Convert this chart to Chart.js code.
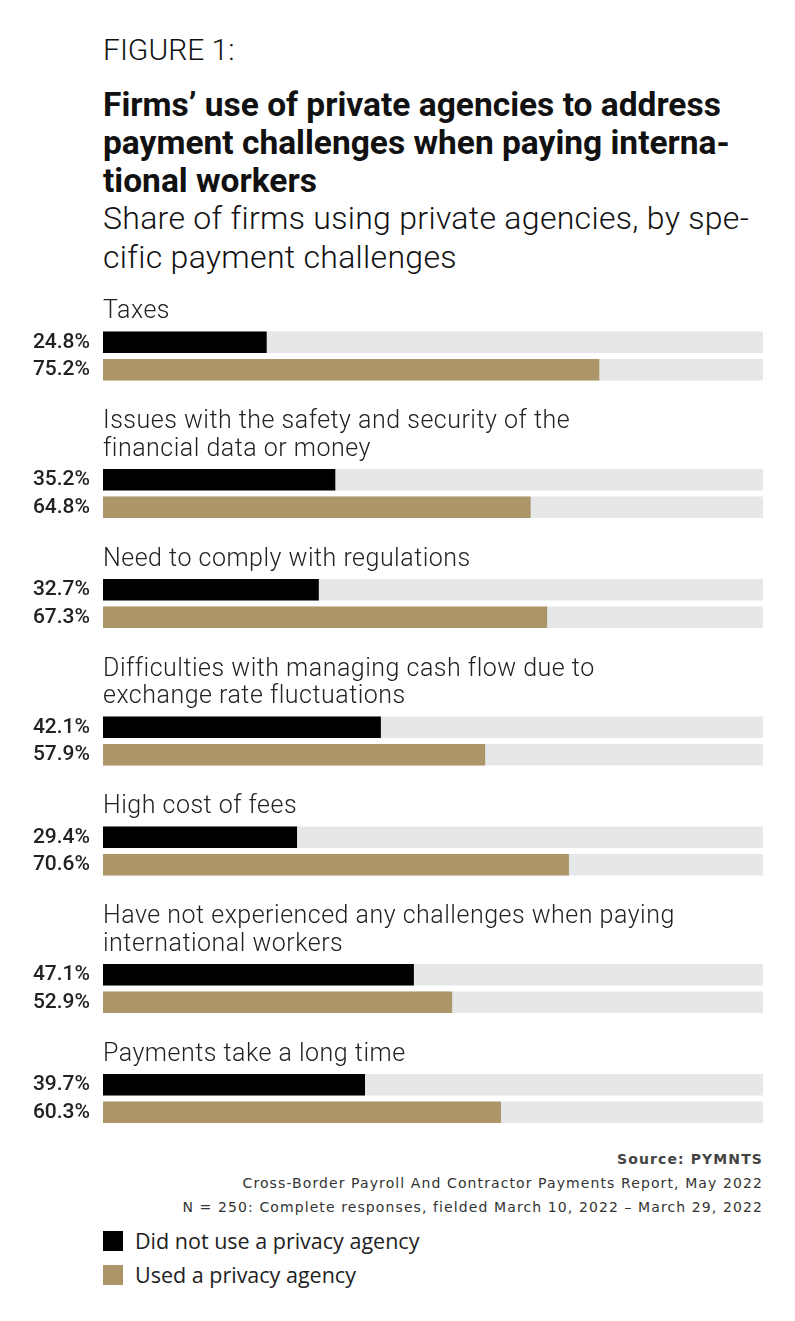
<!DOCTYPE html>
<html>
<head>
<meta charset="utf-8">
<script src="https://cdn.jsdelivr.net/npm/chart.js@4/dist/chart.umd.min.js"></script>
<style>
  body { margin: 0; background: #fff; width: 795px; height: 1321px; position: relative; font-family: Roboto, sans-serif; color: #111; }
  .abs { position: absolute; }
  #fig { left: 103px; top: 32px; font-size: 30px; font-weight: 300; line-height: 36px; }
  #title { left: 103px; top: 86px; font-size: 33.5px; font-weight: 700; line-height: 38px; white-space: nowrap; }
  #subtitle { left: 103px; top: 199px; font-size: 32px; font-weight: 300; line-height: 39px; letter-spacing: 0.3px; white-space: nowrap; }
  #chartBox { left: 0; top: 295px; width: 795px; height: 840px; }
  #source { right: 32px; top: 1147px; text-align: right; font-family: "DejaVu Sans", sans-serif; font-size: 14px; line-height: 24px; letter-spacing: 1.1px; color: #333; }
  #source b { color: #444; }
  .leg { left: 103px; font-family: "Open Sans", sans-serif; font-size: 21.5px; color: #222; display: flex; align-items: center; }
  .sw { width: 20px; height: 20px; margin-right: 12px; }
</style>
</head>
<body>
<div id="fig" class="abs">FIGURE 1:</div>
<div id="title" class="abs">Firms’ use of private agencies to address<br>payment challenges when paying interna-<br>tional workers</div>
<div id="subtitle" class="abs">Share of firms using private agencies, by spe-<br>cific payment challenges</div>
<div id="chartBox" class="abs"><canvas id="chart"></canvas></div>
<div id="source" class="abs"><b>Source: PYMNTS</b><br>Cross-Border Payroll And Contractor Payments Report, May 2022<br>N = 250: Complete responses, fielded March 10, 2022 – March 29, 2022</div>
<div class="abs leg" style="top:1226px"><div class="sw" style="background:#000"></div>Did not use a privacy agency</div>
<div class="abs leg" style="top:1260px"><div class="sw" style="background:#ad956a"></div>Used a privacy agency</div>

<script>
// data
const categories = [
    ["Taxes"],
    ["Issues with the safety and security of the", "financial data or money"],
    ["Need to comply with regulations"],
    ["Difficulties with managing cash flow due to", "exchange rate fluctuations"],
    ["High cost of fees"],
    ["Have not experienced any challenges when paying", "international workers"],
    ["Payments take a long time"]
];
const didNotUse = [24.8, 35.2, 32.7, 42.1, 29.4, 47.1, 39.7];
const usedAgency = [75.2, 64.8, 67.3, 57.9, 70.6, 52.9, 60.3];
const seriesNames = ["Did not use a privacy agency", "Used a privacy agency"];

// build rows: blank spacer, label lines, black bar, gold bar
const rowLabels = [];
const rowText = [];
const blackData = [];
const goldData = [];
const trackData = [];
categories.forEach((lines, i) => {
    if (i > 0) {
        rowLabels.push("gap" + i); rowText.push(null);
        blackData.push(null); goldData.push(null); trackData.push(null);
    }
    lines.forEach((ln, j) => {
        rowLabels.push("label" + i + "_" + j); rowText.push(ln);
        blackData.push(null); goldData.push(null); trackData.push(null);
    });
    rowLabels.push("a" + i); rowText.push(null);
    blackData.push(didNotUse[i]); goldData.push(null); trackData.push(100);
    rowLabels.push("b" + i); rowText.push(null);
    blackData.push(null); goldData.push(usedAgency[i]); trackData.push(100);
});

const groupLabels = {
    id: "groupLabels",
    afterDatasetsDraw(chart) {
        const ctx = chart.ctx;
        const y = chart.scales.y;
        ctx.save();
        ctx.font = "300 25px Roboto";
        ctx.letterSpacing = "0.5px";
        ctx.fillStyle = "#222";
        ctx.textAlign = "left";
        ctx.textBaseline = "middle";
        rowText.forEach((t, i) => {
            if (t) ctx.fillText(t, chart.chartArea.left, y.getPixelForValue(i) - 3);
        });
        ctx.restore();
    }
};

const ctx = document.getElementById("chart").getContext("2d");
new Chart(ctx, {
    type: "bar",
    data: {
        labels: rowLabels,
        datasets: [
            { label: seriesNames[0], data: blackData, backgroundColor: "#000000", grouped: false, order: 0 },
            { label: seriesNames[1], data: goldData, backgroundColor: "#ad956a", grouped: false, order: 0 },
            { label: "track", data: trackData, backgroundColor: "#e6e7e8", grouped: false, order: 1 }
        ]
    },
    options: {
        indexAxis: "y",
        responsive: true,
        maintainAspectRatio: false,
        animation: false,
        barPercentage: 0.78,
        categoryPercentage: 1,
        layout: { padding: { top: 6, bottom: 9, right: 32, left: 0 } },
        scales: {
            x: { min: 0, max: 100, display: false },
            y: {
                grid: { display: false, drawTicks: false },
                border: { display: false },
                afterFit: (scale) => {
                    scale.width = 103;
                    scale.paddingTop = 0;
                    scale.paddingBottom = 0;
                },
                ticks: {
                    autoSkip: false,
                    padding: 13,
                    color: "#222",
                    font: { family: "Roboto", size: 21, weight: "500" },
                    callback: function(v, i) {
                        const val = blackData[i] != null ? blackData[i] : goldData[i];
                        return val != null ? val.toFixed(1) + "%" : "";
                    }
                }
            }
        },
        plugins: {
            legend: { display: false },
            tooltip: { enabled: false }
        }
    },
    plugins: [groupLabels]
});
</script>
</body>
</html>
